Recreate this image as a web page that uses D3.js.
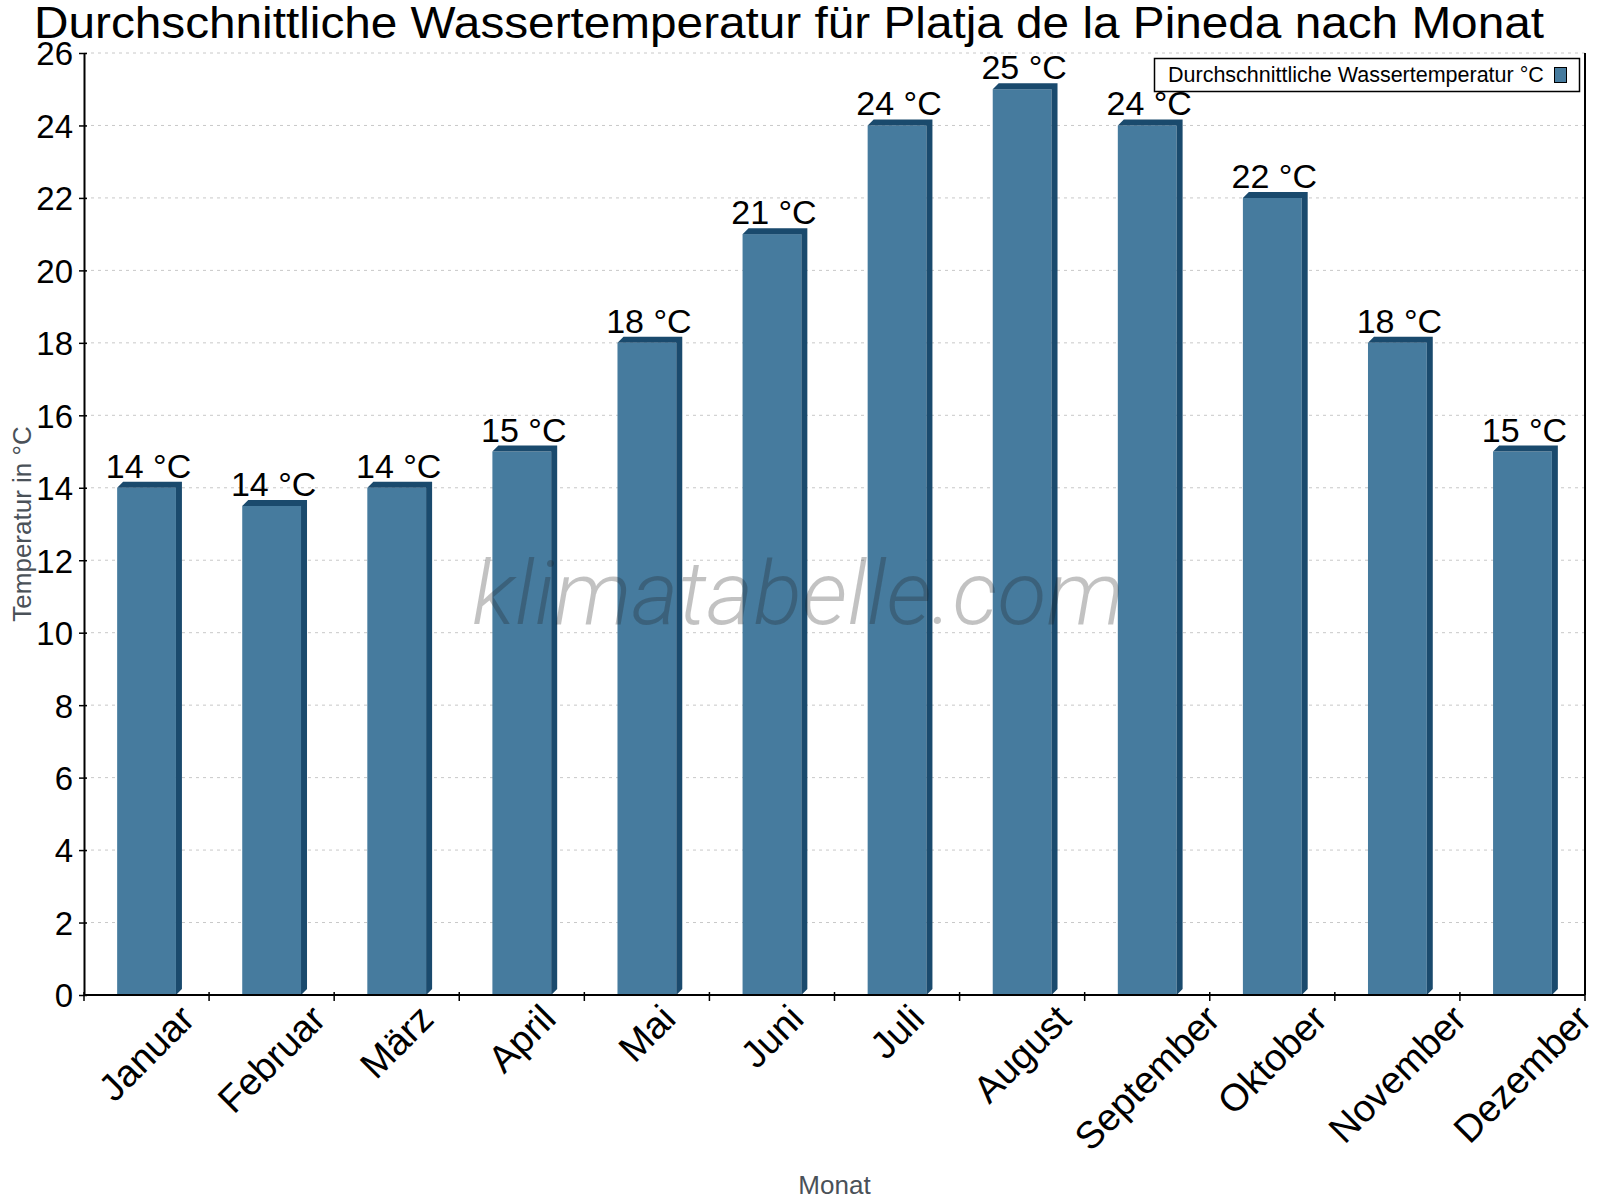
<!DOCTYPE html>
<html>
<head>
<meta charset="utf-8">
<script src="https://cdn.jsdelivr.net/npm/d3@7"></script>
<style>
  body { margin: 0; background: #fff; }
  text { font-family: "Liberation Sans", Arial, sans-serif; }
</style>
</head>
<body>
<script>
// data
const months = ["Januar", "Februar", "März", "April", "Mai", "Juni",
  "Juli", "August", "September", "Oktober", "November", "Dezember"];
const waterTemp = [14, 13.5, 14, 15, 18, 21, 24, 25, 24, 22, 18, 15];
const yTicks = [0, 2, 4, 6, 8, 10, 12, 14, 16, 18, 20, 22, 24, 26];

const titleText = "Durchschnittliche Wassertemperatur für Platja de la Pineda nach Monat";
const legendText = "Durchschnittliche Wassertemperatur °C";

function drawBarChart() {
  const w = 1600;
  const h = 1200;
  const left = 84, right = 1585, top = 53, bottom = 995;
  const depth = 6;

  const frontColor = "#467b9e";
  const darkColor = "#1a4a6d";

  const svg = d3.select("body")
    .append("svg")
    .attr("width", w)
    .attr("height", h);

  const x = d3.scaleBand()
    .domain(months)
    .range([left, right])
    .paddingInner(0)
    .paddingOuter(0);

  const y = d3.scaleLinear()
    .domain([0, 26])
    .range([bottom, top]);

  const barW = x.bandwidth() * 0.47;

  // dotted grid lines
  svg.append("g")
    .selectAll("line")
    .data(yTicks.filter(d => d > 0))
    .enter()
    .append("line")
    .attr("x1", left)
    .attr("x2", right)
    .attr("y1", d => y(d))
    .attr("y2", d => y(d))
    .style("stroke", "#c8c8c8")
    .style("stroke-width", 1)
    .style("stroke-dasharray", "3,4");

  // bars with pseudo 3d top and side
  const bars = svg.append("g")
    .selectAll("g")
    .data(months.map((m, i) => ({ month: m, value: waterTemp[i] })))
    .enter()
    .append("g");

  bars.append("rect")
    .attr("x", d => x(d.month) + (x.bandwidth() - barW) / 2)
    .attr("y", d => y(d.value))
    .attr("width", barW)
    .attr("height", d => y(0) - y(d.value))
    .style("fill", frontColor);

  bars.append("path")
    .attr("d", d => {
      const x0 = x(d.month) + (x.bandwidth() - barW) / 2;
      const x1 = x0 + barW;
      const yt = y(d.value);
      const yb = y(0);
      return `M${x0},${yt} L${x0 + depth},${yt - depth} L${x1 + depth},${yt - depth}`
        + ` L${x1 + depth},${yb - depth} L${x1},${yb} L${x1},${yt} Z`;
    })
    .style("fill", darkColor);

  // value labels
  bars.append("text")
    .attr("x", d => x(d.month) + x.bandwidth() / 2 + 2)
    .attr("y", d => y(d.value) - 10)
    .attr("text-anchor", "middle")
    .attr("font-size", "34px")
    .attr("fill", "#000")
    .text(d => Math.round(d.value) + " °C");

  // y axis
  const yAxis = d3.axisLeft(y)
    .tickValues(yTicks)
    .tickSizeInner(0)
    .tickSizeOuter(0)
    .tickPadding(11);

  const yg = svg.append("g")
    .attr("transform", `translate(${left},0)`)
    .call(yAxis);
  yg.select(".domain").attr("stroke", "#000").attr("stroke-width", 2);
  yg.selectAll(".tick text")
    .attr("font-size", "33px")
    .attr("fill", "#000")
    .attr("dy", "0.36em");
  yg.selectAll(".tick")
    .append("line")
    .attr("x1", -5)
    .attr("x2", 3)
    .attr("stroke", "#000")
    .attr("stroke-width", 1.5);

  // right border line
  svg.append("line")
    .attr("x1", right)
    .attr("x2", right)
    .attr("y1", top)
    .attr("y2", bottom)
    .style("stroke", "#000")
    .style("stroke-width", 2);

  // x axis line and ticks at band edges
  svg.append("line")
    .attr("x1", left)
    .attr("x2", right)
    .attr("y1", bottom)
    .attr("y2", bottom)
    .style("stroke", "#000")
    .style("stroke-width", 2);

  const edges = months.map(m => x(m)).concat([right]);
  svg.append("g")
    .selectAll("line")
    .data(edges)
    .enter()
    .append("line")
    .attr("x1", d => d)
    .attr("x2", d => d)
    .attr("y1", bottom - 3)
    .attr("y2", bottom + 6)
    .style("stroke", "#000")
    .style("stroke-width", 1.5);

  // rotated month labels: bbox centered under the band, top at fixed y
  const labels = svg.append("g")
    .selectAll("g")
    .data(months)
    .enter()
    .append("g");

  labels.append("text")
    .attr("text-anchor", "end")
    .attr("transform", "rotate(-45)")
    .attr("font-size", "38px")
    .attr("fill", "#000")
    .text(d => d);

  labels.each(function (d) {
    const g = d3.select(this);
    const bb = this.getBBox();
    const cx = x(d) + x.bandwidth() / 2;
    g.attr("transform", `translate(${cx - (bb.x + bb.width / 2)},${997 - bb.y})`);
  });

  // axis titles
  svg.append("text")
    .attr("x", (left + right) / 2)
    .attr("y", 1194)
    .attr("text-anchor", "middle")
    .attr("font-size", "26px")
    .attr("fill", "#4a5158")
    .text("Monat");

  svg.append("text")
    .attr("transform", `translate(31,${(top + bottom) / 2}) rotate(-90)`)
    .attr("text-anchor", "middle")
    .attr("font-size", "26px")
    .attr("fill", "#4a5158")
    .text("Temperatur in °C");

  // title
  svg.append("text")
    .attr("x", 789)
    .attr("y", 38)
    .attr("text-anchor", "middle")
    .attr("font-size", "45px")
    .attr("textLength", 1510)
    .attr("lengthAdjust", "spacingAndGlyphs")
    .attr("fill", "#000")
    .text(titleText);

  // legend
  svg.append("rect")
    .attr("x", 1154.5)
    .attr("y", 58.5)
    .attr("width", 425)
    .attr("height", 33)
    .style("fill", "#fff")
    .style("stroke", "#000")
    .style("stroke-width", 1.5);

  svg.append("text")
    .attr("x", 1168)
    .attr("y", 82)
    .attr("font-size", "21.5px")
    .attr("fill", "#000")
    .text(legendText);

  svg.append("rect")
    .attr("x", 1554.5)
    .attr("y", 67.5)
    .attr("width", 12)
    .attr("height", 15)
    .style("fill", frontColor)
    .style("stroke", "#000")
    .style("stroke-width", 1);

  // watermark on top of the bars (light italic)
  svg.append("text")
    .attr("x", 472)
    .attr("y", 624)
    .style("font-family", "Roboto, Inter, sans-serif")
    .style("font-style", "italic")
    .style("font-weight", 300)
    .style("font-size", "88px")
    .attr("textLength", 652)
    .attr("lengthAdjust", "spacingAndGlyphs")
    .style("fill", "rgba(30,30,30,0.27)")
    .text("klimatabelle.com");
}

drawBarChart();
</script>
</body>
</html>
